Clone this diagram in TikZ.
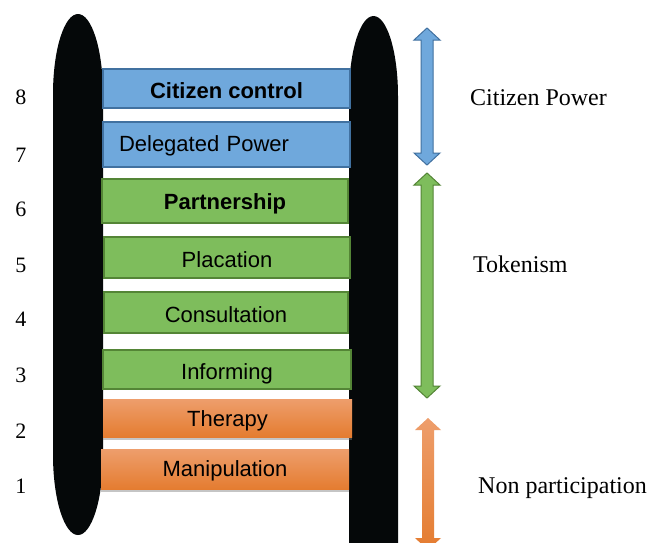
\documentclass[tikz,border=0pt]{standalone}
\usepackage{fontspec}
\setmainfont{Liberation Serif}
\newfontfamily\arialf{Liberation Sans}
\usetikzlibrary{shadows}
\definecolor{bluefill}{RGB}{111,168,220}
\definecolor{blueline}{RGB}{65,113,160}
\definecolor{greenfill}{RGB}{126,189,92}
\definecolor{greenline}{RGB}{84,133,54}
\definecolor{orangetop}{RGB}{238,158,108}
\definecolor{orangebot}{RGB}{228,124,48}
\definecolor{pillarcol}{RGB}{5,8,9}
\newcommand{\blockarrow}[4]{%
  \path[#4] (#1,#2) -- ++(13,-12) -- ++(-7,0) -- ({#1+6},{#3+12}) -- ++(7,0)
    -- (#1,#3) -- ++(-13,12) -- ++(7,0) -- ({#1-6},{#2-12}) -- ++(-7,0) -- cycle;}
\begin{document}
\begin{tikzpicture}[x=1pt,y=1pt,
  rung/.style={inner sep=0pt, font=\arialf\fontsize{22}{26}\selectfont, text=black, text depth=1pt},
  bluerung/.style={rung, fill=bluefill, draw=blueline, line width=1.6pt},
  greenrung/.style={rung, fill=greenfill, draw=greenline, line width=1.6pt},
  orangerung/.style={rung, top color=orangetop, bottom color=orangebot, draw=none,
    drop shadow={shadow xshift=0pt, shadow yshift=-3pt, opacity=0.45}},
  num/.style={font=\fontsize{22}{26}\selectfont, inner sep=0pt, anchor=base},
  group/.style={font=\fontsize{24}{28}\selectfont, inner sep=0pt, anchor=base west},
]
\clip (0,0) rectangle (649,-542);
\fill[white] (0,0) rectangle (649,-542);
% pillars
\fill[pillarcol] (53,-94) -- (53,-455)
  arc[start angle=180,end angle=360,x radius=25,y radius=80]
  -- (103,-94) arc[start angle=0,end angle=180,x radius=25,y radius=80] -- cycle;
\fill[pillarcol] (349,-96) -- (349,-620) -- (398,-620) -- (398,-96)
  arc[start angle=0,end angle=180,x radius=24.5,y radius=80] -- cycle;
% rungs
\node[bluerung, minimum width=247, minimum height=39, text height=21.8pt] (cc) at (226.5,-88.5) {\bfseries Citizen control};
\node[bluerung, minimum width=247, minimum height=45, text height=14.8pt, text width=215, inner xsep=16pt, align=left] (dp) at (226.5,-144.5) {Delegated Power};
\node[greenrung, minimum width=246, minimum height=44, text height=18.8pt] (pa) at (225,-201) {\bfseries Partnership};
\node[greenrung, minimum width=246, minimum height=41, text height=20.8pt] (pl) at (227,-257.5) {Placation};
\node[greenrung, minimum width=244, minimum height=41, text height=21.8pt] (co) at (226,-312.5) {Consultation};
\node[greenrung, minimum width=248, minimum height=39, text height=21.8pt] (in) at (227,-369.5) {Informing};
\node[orangerung, minimum width=249, minimum height=38, text height=17.8pt] (th) at (227.5,-418) {Therapy};
\node[orangerung, minimum width=248, minimum height=40, text height=16.8pt] (ma) at (225,-469) {Manipulation};
% numbers
\node[num] (n8) at (21,-104) {8};
\node[num] (n7) at (21,-162) {7};
\node[num] (n6) at (21,-216) {6};
\node[num] (n5) at (21,-272) {5};
\node[num] (n4) at (21,-326) {4};
\node[num] (n3) at (21,-382) {3};
\node[num] (n2) at (21,-438) {2};
\node[num] (n1) at (21,-493) {1};
% arrows
\blockarrow{427}{-28}{-165}{fill=bluefill, draw=blueline, line width=1pt}
\blockarrow{427}{-173}{-398}{fill=greenfill, draw=greenline, line width=1pt}
\blockarrow{428}{-418}{-550}{top color=orangetop, bottom color=orangebot}
% group labels
\node[group] (cp) at (470,-105) {Citizen Power};
\node[group] (tk) at (473,-272) {Tokenism};
\node[group] (np) at (478,-493) {Non participation};
\end{tikzpicture}
\end{document}
